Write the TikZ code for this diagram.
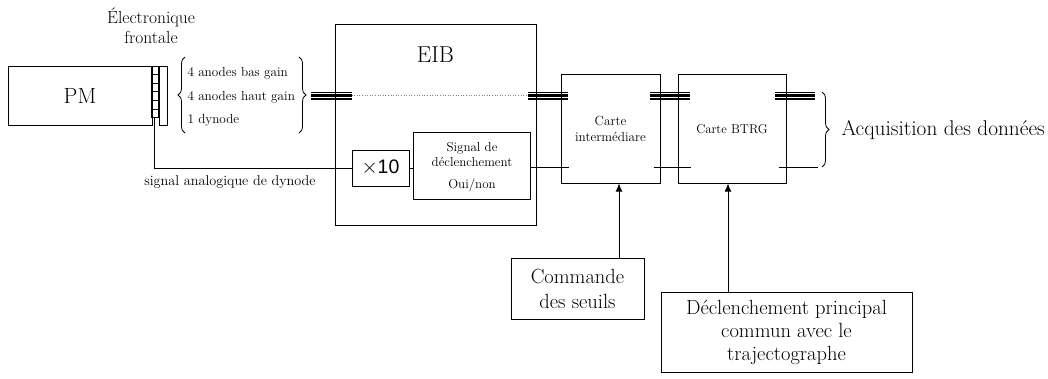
\documentclass[tikz,border=0pt]{standalone}
\usepackage{fontspec}
\newfontfamily\sansf{Liberation Sans}
\usetikzlibrary{decorations.pathreplacing,arrows.meta,calc,backgrounds}
\begin{document}
\begin{tikzpicture}[x=1pt,y=-1pt,line width=1pt,
  box/.style={draw,rectangle,inner sep=0pt,anchor=center},
  txt/.style={inner sep=0pt,anchor=center,align=center},
  bus/.style={draw=black,line width=8pt,
    postaction={draw=white,line width=4.6pt},
    postaction={draw=black,line width=2.6pt}},
  sig/.style={draw=black,line width=1pt},
  brc/.style={decorate,decoration={brace,amplitude=7pt},line width=0.8pt},
  arr/.style={-{Latex[length=8pt,width=7pt]},line width=1pt}]
\useasboundingbox (0,0) rectangle (1048,378);

% PM and front-end
\node[box,minimum width=144pt,minimum height=59pt,font=\fontsize{22}{24}\selectfont] (pm) at (80,95.5) {PM};
\node[box,minimum width=7.5pt,minimum height=50.5pt] (cells) at (154.75,91.75) {};
\foreach \k in {1,...,5}{
  \draw[line width=0.7pt] ($(cells.north west)!\k/6!(cells.south west)$) -- ($(cells.north east)!\k/6!(cells.south east)$);
}
\node[box,minimum width=8pt,minimum height=59pt] (strip) at (163.5,95.5) {};
\node[txt,font=\fontsize{17.5}{20}\selectfont] (fe) at (151,26) {\'Electronique\\frontale};

% brace with channels
\coordinate (bl1) at (185,57);
\coordinate (bl2) at (185,133);
\coordinate (br1) at (299,57);
\coordinate (br2) at (299,133);
\draw[brc] (bl2) -- (bl1);
\draw[brc] (br1) -- (br2);
\node[txt,align=left,anchor=west,font=\fontsize{13.2}{23.5}\selectfont] (chan) at (187,97) {4 anodes bas gain\\4 anodes haut gain\\1 dynode};

% EIB
\node[box,minimum width=201pt,minimum height=201pt] (eib) at (435.5,124.5) {};
\node[txt,font=\fontsize{23}{24}\selectfont] (eibl) at (435.5,55) {EIB};
\node[box,minimum width=57pt,minimum height=36pt,font=\sansf\fontsize{19.5}{22}\selectfont] (x10) at (380.5,168) {$\times$10};
\node[box,minimum width=117pt,minimum height=67pt] (sigb) at (472,166) {};
\node[txt,font=\fontsize{13}{15.6}\selectfont] (sigt) at (472,154.5) {Signal de\\d\'eclenchement};
\node[txt,font=\fontsize{13}{15}\selectfont] (oui) at (472,185) {Oui/non};

% cards
\node[box,minimum width=99pt,minimum height=108.5pt,align=center,font=\fontsize{13.2}{16.6}\selectfont] (ci) at (610.5,128.75) {Carte\\interm\'ediare};
\node[box,minimum width=108pt,minimum height=108.5pt,font=\fontsize{12.8}{15}\selectfont] (bt) at (732,128.75) {Carte BTRG};

% bottom boxes
\node[box,minimum width=133pt,minimum height=61pt,align=center,font=\fontsize{20.5}{25}\selectfont] (cmd) at (577.5,288.5) {Commande\\des seuils};
\node[box,minimum width=251pt,minimum height=80pt,align=center,font=\fontsize{20.5}{23}\selectfont] (dec) at (786.5,332) {D\'eclenchement principal\\commun avec le\\trajectographe};

\node[txt,font=\fontsize{14.2}{15}\selectfont] (sad) at (230,182) {signal analogique de dynode};

% buses (behind the box edges)
\coordinate (by) at (0,95.5);
\coordinate (ly) at (0,167);
\begin{scope}[on background layer]
  \draw[bus] (311,95.5) -- (eib.west |- by) -- ++(17,0) coordinate (d1);
  \draw[bus] (528,95.5) coordinate (d2) -- (568,95.5);
  \draw[bus] (650,95.5) -- (690,95.5);
  \draw[bus] (775,95.5) -- (815,95.5);
\end{scope}
\draw[gray,dotted,line width=0.6pt] (d1) -- (d2);

% signal lines
\draw[sig] (cells.south) |- (x10.west);
\draw[sig] (x10.east) -- (x10.east -| sigb.west);
\draw[sig] (sigb.east |- ly) -- ($(ci.west |- ly)+(8,0)$);
\draw[sig] ($(ci.east |- ly)+(-7,0)$) -- ($(bt.west |- ly)+(13,0)$);
\draw[sig] ($(bt.east |- ly)+(-8,0)$) -- ($(bt.east |- ly)+(31,0)$);

% acquisition brace
\coordinate (ab1) at (822,92);
\coordinate (ab2) at (822,167);
\draw[brc] (ab1) -- (ab2);
\node[txt,anchor=west,font=\fontsize{21.3}{22}\selectfont] (acq) at (841,130) {Acquisition des donn\'ees};

% arrows
\coordinate (a1) at (619,0);
\coordinate (a2) at (728,0);
\draw[arr] (a1 |- cmd.north) -- (a1 |- ci.south);
\draw[arr] (a2 |- dec.north) -- (a2 |- bt.south);
\end{tikzpicture}
\end{document}
